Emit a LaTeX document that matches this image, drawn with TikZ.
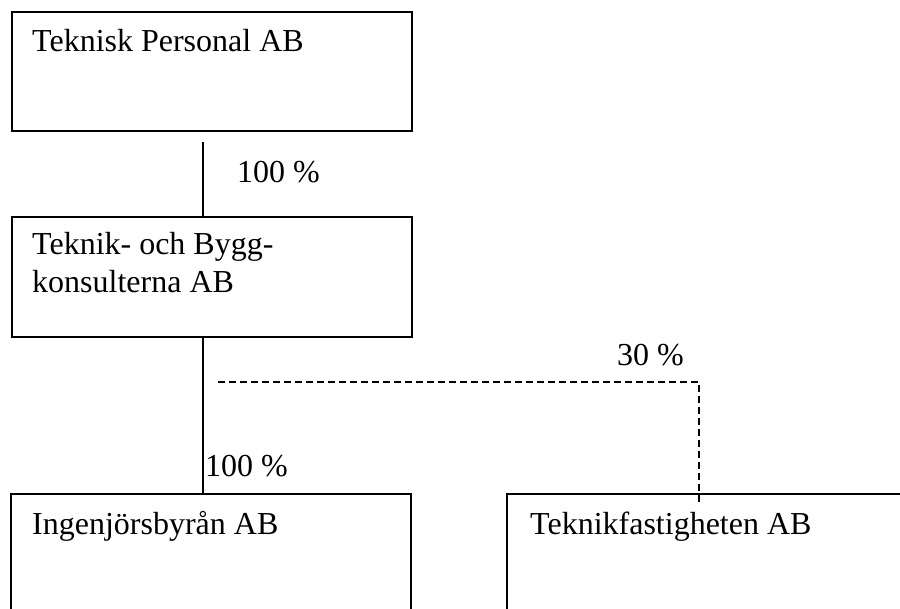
\documentclass[tikz,border=0pt]{standalone}
\usepackage{fontspec}
\setmainfont{Liberation Serif}
\begin{document}
\begin{tikzpicture}[x=1pt,y=-1pt,
  box/.style={draw,line width=2pt,inner sep=0pt},
  lbl/.style={anchor=base west,inner sep=0pt,font=\fontsize{32}{38}\selectfont,align=left},
  conn/.style={line width=2pt},
  share/.style={line width=2pt,dash pattern=on 7pt off 4pt}]
\useasboundingbox (0,0) rectangle (900,609);
% boxes
\node[box,minimum width=400pt,minimum height=119pt,anchor=north west] (tp) at (11,11) {};
\node[box,minimum width=400pt,minimum height=120pt,anchor=north west] (tb) at (11,216) {};
\coordinate (ib) at (11,494);
\coordinate (tf) at (507,494);
\draw[conn] (11,612) -- (ib) -- (411,494) -- (411,612);
\draw[conn] (507,612) -- (tf) -- (904,494);
% texts
\node[lbl] (tpt) at (32,52) {Teknisk Personal AB};
\node[lbl] (tbt1) at (32,255) {Teknik- och Bygg-};
\node[lbl] (tbt2) at (32,293) {konsulterna AB};
\node[lbl] (ibt) at (32,534) {Ingenjörsbyrån AB};
\node[lbl] (tft) at (530,534) {Teknikfastigheten AB};
% connectors
\coordinate (c1) at (203,142);
\draw[conn] (c1) -- (c1 |- tb.north);
\coordinate (c2) at (203,336);
\draw[conn] (c2) -- (c2 |- ib);
\coordinate (d1) at (218,382);
\coordinate (d2) at (699,382);
\coordinate (d3) at (699,502);
\draw[share] (d1) -- (d2) -- (d3);
% labels
\node[lbl] (l1) at (237,183) {100 \%};
\node[lbl] (l2) at (205,477) {100 \%};
\node[lbl] (l3) at (617,366) {30 \%};
\end{tikzpicture}
\end{document}
